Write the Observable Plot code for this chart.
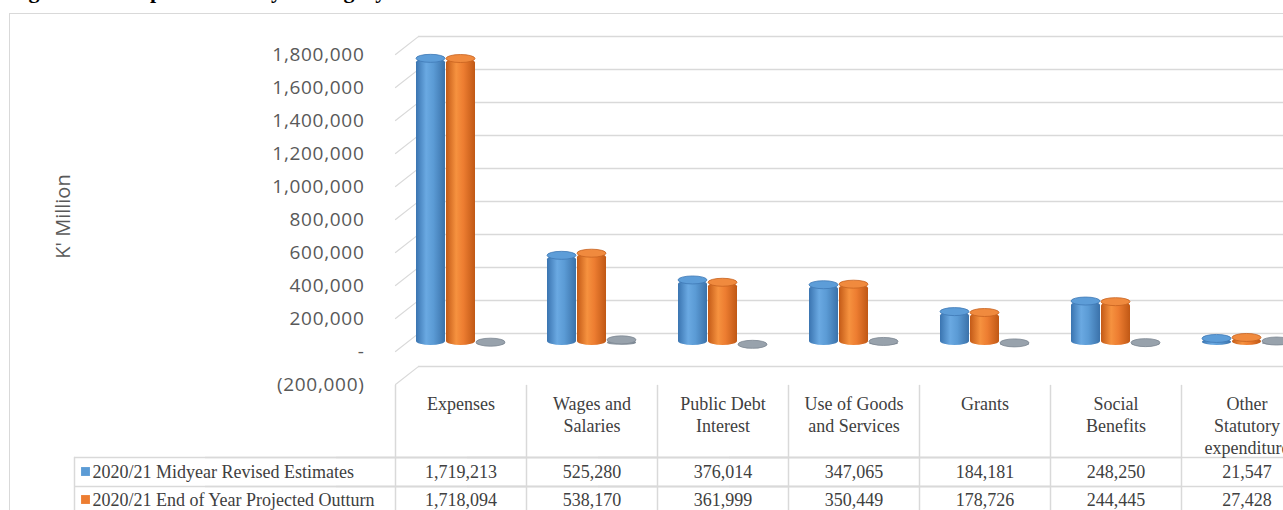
<!DOCTYPE html>
<html>
<head>
<meta charset="utf-8">
<script src="https://cdn.jsdelivr.net/npm/d3@7"></script>
<script src="https://cdn.jsdelivr.net/npm/@observablehq/plot@0.6"></script>
<style>
  html, body { margin: 0; padding: 0; background: #fff; overflow: hidden; }
  #wrap { position: relative; width: 1283px; height: 510px; overflow: hidden; }
  #title { position: absolute; left: 9px; top: -20px; font: bold 22px/22px "Liberation Serif", "Times New Roman", serif; color: #000; word-spacing: 12px; white-space: nowrap; }
  #border { position: absolute; left: 9px; top: 13px; width: 1400px; height: 600px; border: 1.5px solid #d9d9d9; box-sizing: border-box; pointer-events: none; }
  #chart { position: absolute; left: 0; top: 0; width: 1320px; }
  #chart svg { max-width: none !important; width: 1320px !important; height: 510px !important; }
  g[aria-label="y-axis tick label"] text { letter-spacing: 0.7px; }
</style>
</head>
<body>
<div id="wrap">
  <div id="title">Figure 3: Expenditure by Category</div>
  <div id="border"></div>
  <svg width="0" height="0" style="position:absolute">
    <defs>
      <linearGradient id="g0" x1="0" x2="1" y1="0" y2="0">
        <stop offset="0" stop-color="#3a74b0"/>
        <stop offset="0.35" stop-color="#6aa9e2"/>
        <stop offset="0.6" stop-color="#5b9bd5"/>
        <stop offset="1" stop-color="#3b72aa"/>
      </linearGradient>
      <linearGradient id="g1" x1="0" x2="1" y1="0" y2="0">
        <stop offset="0" stop-color="#c35a17"/>
        <stop offset="0.35" stop-color="#f6923f"/>
        <stop offset="0.6" stop-color="#ed7d31"/>
        <stop offset="1" stop-color="#c05815"/>
      </linearGradient>
      <linearGradient id="g2" x1="0" x2="1" y1="0" y2="0">
        <stop offset="0" stop-color="#7b8794"/>
        <stop offset="0.4" stop-color="#aab2ba"/>
        <stop offset="1" stop-color="#7a8591"/>
      </linearGradient>
    </defs>
  </svg>
  <div id="chart"></div>
</div>
<script>
// ---- data ----
const categories = ["Expenses", "Wages and Salaries", "Public Debt Interest", "Use of Goods and Services", "Grants", "Social Benefits", "Other Statutory expenditure"];
const headerLabels = ["Expenses", "Wages and\nSalaries", "Public Debt\nInterest", "Use of Goods\nand Services", "Grants", "Social\nBenefits", "Other\nStatutory\nexpenditure"];
const seriesNames = ["2020/21 Midyear Revised Estimates", "2020/21 End of Year Projected Outturn", "Variance"];
const midyear = [1719213, 525280, 376014, 347065, 184181, 248250, 21547];
const outturn = [1718094, 538170, 361999, 350449, 178726, 244445, 27428];
const variance = [-1119, 12890, -14015, 3384, -5455, -3805, 5881];
const yTicks = [-200000, 0, 200000, 400000, 600000, 800000, 1000000, 1200000, 1400000, 1600000, 1800000];
const yAxisTitle = "K' Million";

// ---- helpers ----
const seriesValues = [midyear, outturn, variance];
const capFill = ["#5d9dd8", "#f08a3e", "#98a2ac"];
const capStroke = ["#3f79b5", "#c7621f", "#7c8792"];
const legendColors = ["#5b9bd5", "#ed7d31"];
const comma = d3.format(",");
const fmtAxis = v => v === 0 ? "-" : v < 0 ? `(${comma(-v)})` : comma(v);

const rows = categories.map((c, i) => ({cat: c, header: headerLabels[i], v1: midyear[i], v2: outturn[i]}));
const bars = seriesNames.map((s, j) => categories.map((c, i) => ({cat: c, series: s, value: seriesValues[j][i]})));

const lineShape = {draw(context, l) { context.moveTo(0, 0); context.lineTo(0, -l); }};
const gridColor = "#d9d9d9";
const serif = "'Liberation Serif', 'Times New Roman', serif";
const sans = "'Open Sans', sans-serif";
const tableText = "#404040";

const marks = [
  // back-wall gridlines
  Plot.ruleY(yTicks, {dx: 23, dy: -9, stroke: gridColor, strokeWidth: 1.6}),
  // connectors from axis labels to back wall
  Plot.vector(yTicks, {y: d => d, frameAnchor: "left", dy: 9, length: 29, rotate: 52, anchor: "start", shape: lineShape, stroke: gridColor, strokeWidth: 1.2, facetAnchor: "left"}),
  // y axis labels
  Plot.axisY({ticks: yTicks, tickSize: 0, tickPadding: 31, dy: 9, tickFormat: fmtAxis, fontSize: 19, fontFamily: sans, fill: "#595959", label: null}),
  // y axis title
  Plot.text([yAxisTitle], {frameAnchor: "left", textAnchor: "middle", lineAnchor: "middle", dx: -332, dy: 6, rotate: -90, fontSize: 20, fontFamily: sans, fill: "#595959", facetAnchor: "left"}),
];

// cylinders
bars.forEach((data, j) => {
  marks.push(Plot.barY(data, {fx: "cat", x: "series", y: "value", fill: `url(#g${j})`, rx: 15, ry: 4, insetBottom: -3}));
  marks.push(Plot.barY(data, {fx: "cat", x: "series", y1: "value", y2: "value", fill: capFill[j], stroke: capStroke[j], strokeWidth: 0.8, rx: 15, ry: 4, insetTop: -4, insetBottom: -4}));
});

// data table
marks.push(
  Plot.vector([0], {frameAnchor: "bottom-left", dy: 10, length: 140, rotate: 180, anchor: "start", shape: lineShape, stroke: gridColor, strokeWidth: 1.5}),
  Plot.vector([0], {frameAnchor: "bottom-left", dx: -321, dy: 82, length: 60, rotate: 180, anchor: "start", shape: lineShape, stroke: gridColor, strokeWidth: 1.5, facetAnchor: "left"}),
  Plot.ruleY([-200000], {dy: 82, insetLeft: -321, stroke: gridColor, strokeWidth: 1.5}),
  Plot.ruleY([-200000], {dy: 111, insetLeft: -321, stroke: gridColor, strokeWidth: 1.5}),
  Plot.text(rows, {fx: "cat", text: "header", frameAnchor: "bottom", lineAnchor: "top", dy: 19, lineHeight: 1.22, fontSize: 18, fontFamily: serif, fill: tableText}),
  Plot.text(rows, {fx: "cat", text: d => comma(d.v1), frameAnchor: "bottom", lineAnchor: "middle", dy: 97, fontSize: 18, fontFamily: serif, fill: tableText}),
  Plot.text(rows, {fx: "cat", text: d => comma(d.v2), frameAnchor: "bottom", lineAnchor: "middle", dy: 125, fontSize: 18, fontFamily: serif, fill: tableText})
);
// legend rows in the table
[0, 1].forEach(j => {
  const dyRow = j === 0 ? 96 : 124;
  marks.push(
    Plot.dot([seriesNames[j]], {frameAnchor: "bottom-left", dx: -310, dy: dyRow, symbol: "square", r: 5, fill: legendColors[j], facetAnchor: "left"}),
    Plot.text([seriesNames[j]], {frameAnchor: "bottom-left", dx: -303, dy: dyRow + 1, textAnchor: "start", lineAnchor: "middle", fontSize: 18, fontFamily: serif, fill: tableText, facetAnchor: "left"})
  );
});

const chart = Plot.plot({
  width: 1320,
  height: 510,
  marginLeft: 393,
  marginRight: 6,
  marginTop: 45,
  marginBottom: 135,
  style: {background: "transparent", fontFamily: sans, overflow: "visible", maxWidth: "none"},
  fx: {domain: categories, padding: 0, axis: null, label: null},
  x: {domain: seriesNames, paddingInner: 0.03, paddingOuter: 0.68, axis: null},
  y: {domain: [-200000, 1800000]},
  marks
});
document.getElementById("chart").appendChild(chart);
</script>
</body>
</html>
